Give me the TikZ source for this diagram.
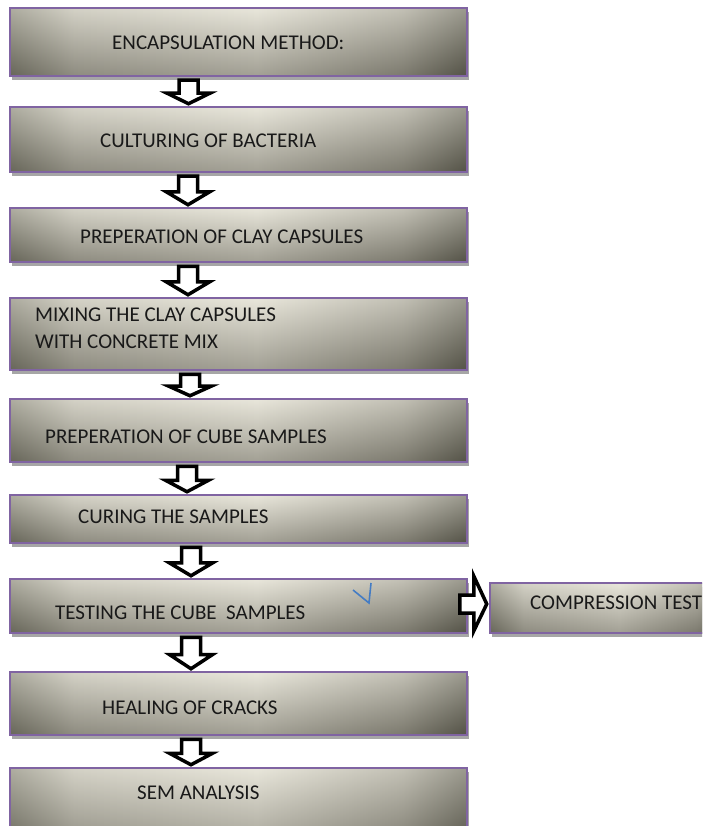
\documentclass[tikz,border=0pt]{standalone}
\usepackage{fontspec}
\setmainfont{Carlito}
\usetikzlibrary{calc, shadows}
\definecolor{boxedge}{RGB}{143,141,124}
\definecolor{boxmid}{RGB}{196,193,177}
\definecolor{boxlight}{RGB}{224,221,205}
\definecolor{boxmidr}{RGB}{172,169,153}
\definecolor{boxdark}{RGB}{116,114,98}
\definecolor{boxline}{RGB}{128,100,162}
\definecolor{tickblue}{RGB}{68,124,196}
\pgfdeclarehorizontalshading{boxshade}{100bp}{color(0bp)=(boxedge); color(25bp)=(boxedge);
  color(32bp)=(boxmid); color(52bp)=(boxlight); color(68bp)=(boxmidr);
  color(75bp)=(boxdark); color(100bp)=(boxdark)}
\tikzset{
  stepbox/.style={
    minimum width=457pt,
    inner sep=0pt,
    draw=boxline, line width=1.5pt,
    shading=boxshade,
    path picture={\shade[top color=white, bottom color=black, fill opacity=0.28]
      (path picture bounding box.south west) rectangle (path picture bounding box.north east);},
    drop shadow={shadow xshift=1.5pt, shadow yshift=-4pt, fill=black!35, opacity=1},
  },
  steptext/.style={
    anchor=west, inner sep=0pt, align=left,
    text=black!90, font=\fontsize{21}{27}\selectfont,
  },
  blockarrow/.style={
    draw=black, line width=3.5pt, fill=white, line join=miter,
  },
}
% outlined block arrow from #1 down to #2 at x=#3
\newcommand\downflow[3]{%
  \draw[blockarrow] let \p1=(#1.south), \p2=(#2.north), \n1={\y1-\y2} in
    ({(#3-9.5)*1pt},{\y1-3.5pt}) -- ({(#3+9.5)*1pt},{\y1-3.5pt})
    -- ({(#3+9.5)*1pt},{\y1-3.5pt-0.55*(\n1-6pt)}) -- ({(#3+21.5)*1pt},{\y1-3.5pt-0.55*(\n1-6pt)})
    -- ({#3*1pt},{\y2+2.5pt})
    -- ({(#3-21.5)*1pt},{\y1-3.5pt-0.55*(\n1-6pt)}) -- ({(#3-9.5)*1pt},{\y1-3.5pt-0.55*(\n1-6pt)})
    -- cycle;
}

\begin{document}
\begin{tikzpicture}[x=1pt, y=-1pt]
\path[use as bounding box] (0,0) rectangle (702,826);
\clip (0,0) rectangle (702,826);

\foreach \i/\t/\bt in {1/8/76, 2/107/172, 3/208/262, 4/298/370, 5/399/462,
                       6/495/543, 7/579/633, 8/672/735, 9/768/850} {
  \pgfmathsetmacro\h{\bt-\t}
  \pgfmathsetmacro\m{(\t+\bt)/2}
  \node[stepbox, minimum height=\h pt] (b\i) at (238.5,\m) {};
}
\node[stepbox, minimum width=240pt, minimum height=50pt] (comp) at (610,608) {};

\node[steptext] (t1) at (112,43) {ENCAPSULATION METHOD:};
\node[steptext] (t2) at (100,141) {CULTURING OF BACTERIA};
\node[steptext] (t3) at (80,237) {PREPERATION OF CLAY CAPSULES};
\node[steptext] (t4) at (35,328.5) {MIXING THE CLAY CAPSULES\\WITH CONCRETE MIX};
\node[steptext] (t5) at (45,437) {PREPERATION OF CUBE SAMPLES};
\node[steptext] (t6) at (78,517) {CURING THE SAMPLES};
\node[steptext] (t7) at (55,613) {TESTING THE CUBE\ \ SAMPLES};
\node[steptext] (t8) at (102,708) {HEALING OF CRACKS};
\node[steptext] (t9) at (137,793) {SEM ANALYSIS};
\node[steptext] (tc) at (530,603) {COMPRESSION TEST};

\foreach \src/\dst/\ax in {b1/b2/188.5, b2/b3/188, b3/b4/188, b4/b5/190,
                           b5/b6/187, b6/b7/191, b7/b8/191, b8/b9/191}
  \downflow{\src}{\dst}{\ax};

\draw[blockarrow] let \p1=(b7.east), \p2=(comp.west) in
  ({\x1-8pt},{\y2+13pt}) -- ({\x1+6pt},{\y2+13pt}) -- ({\x1+6pt},{\y2+32pt})
  -- ({\x2-2.5pt},{\y2+4pt})
  -- ({\x1+6pt},{\y2-23pt}) -- ({\x1+6pt},{\y2-5pt}) -- ({\x1-8pt},{\y2-5pt}) -- cycle;

\draw[tickblue, line width=1.6pt] (353,590) -- (369,603) -- (371,583);
\end{tikzpicture}
\end{document}
